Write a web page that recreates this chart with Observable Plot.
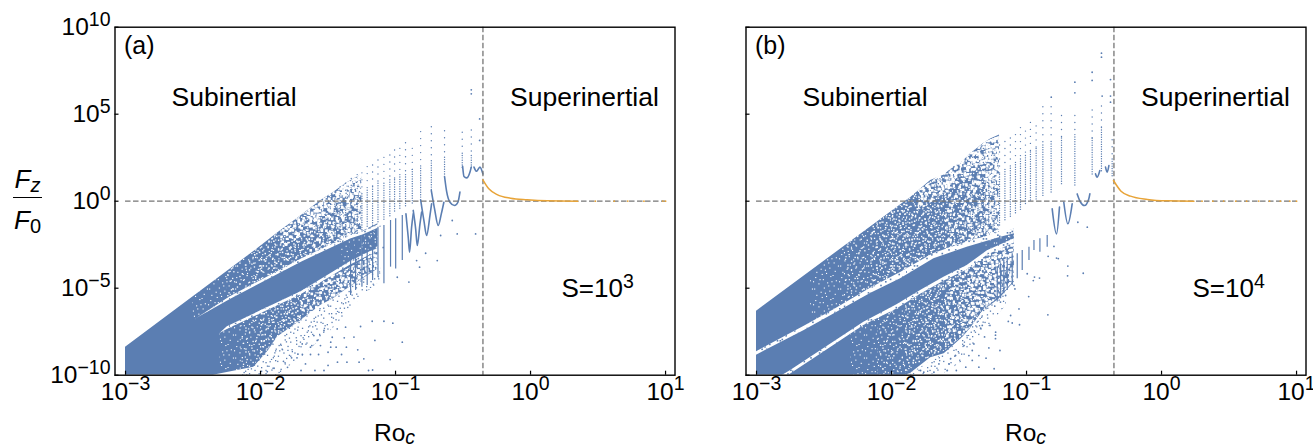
<!DOCTYPE html>
<html><head><meta charset="utf-8">
<script src="https://cdn.jsdelivr.net/npm/d3@7"></script>
<script src="https://cdn.jsdelivr.net/npm/@observablehq/plot@0.6"></script>
<style>
html,body{margin:0;padding:0;background:#fff;overflow:hidden}
#page{position:relative;width:1313px;height:447px;font-family:"Liberation Sans",sans-serif;color:#000}
.frac{position:absolute;left:12px;width:31px;text-align:center;font-size:26px;line-height:1;font-style:italic;white-space:nowrap}
.frac sub{font-size:20px;line-height:0;vertical-align:-4px}
.frac sub.up{font-style:normal}
</style></head><body>
<div id="page">
<svg width="0" height="0" style="position:absolute" id="defs"></svg>
<div class="frac" style="top:166px">F<sub>z</sub></div>
<div style="position:absolute;left:13px;top:197px;width:29px;height:1.4px;background:#000"></div>
<div class="frac" style="top:207px">F<sub class="up">0</sub></div>
</div>
<script>
// Values are log10(Ro_c) and log10(F_z/F_0).
const BLUE = "#5b7eb2", ORANGE = "#e8a438", DASH = "#757575";
const xExponents = [-3,-2,-1,0,1];
const yExponents = [-10,-5,0,5,10];
const roBoundary = 0.444;

// Outline of the merged point cloud: [log Ro, low log F, high log F]
const aCloud = [[-3,-10,-8.4],[-2.35,-10,-4.63],[-2.05,-9.54,-2.89],[-1.942,-8.6,-2.24],[-1.874,-7.8,-1.83],[-1.7,-6.85,-0.83],[-1.555,-6,0.02],[-1.46,-5.6,0.5],[-1.37,-5.1,1],[-1.25,-4.5,1.53]];
const aTail = [[-1.25,-4.5,-1.75],[-1.13,-3.9,-1.3]];
const bCloud = [[-3,-10,-6.32],[-1.897,-10,0],[-1.86,-9.9,0.2],[-1.71,-9,1.19],[-1.61,-8.77,1.5],[-1.54,-8.3,1.96],[-1.47,-7.8,2.3],[-1.414,-7.3,2.72],[-1.32,-6.28,3.3],[-1.266,-6,3.58],[-1.2,-5.6,3.8]];
const bTail = [[-1.2,-5.6,-1.9],[-1.09,-4.65,-1.6]];
// The two pale stripes that split the cloud
const aStripes = [
 [[-2.47,-6.72,-6.72],[-2.224,-5.65,-5.49],[-1.69,-3.48,-3.3],[-1.333,-2.17,-1.97],[-1.237,-1.93,-1.75],[-1.1,-1.45,-1.25]],
 [[-2.3,-7.6,-7.6],[-2.246,-7.38,-7.22],[-1.7,-5.38,-5.2],[-1.333,-3.66,-3.46],[-1.185,-3.09,-2.89],[-1.05,-2.7,-2.5]]
];
const bStripes = [
 [[-3,-8.85,-8.65],[-2.65,-7.45,-7.2],[-2.43,-6.5,-6.25],[-2.156,-5.3,-5],[-1.933,-4.46,-4.1],[-1.686,-3.31,-3],[-1.44,-2.64,-2.35],[-1.19,-2.07,-1.8],[-1.09,-1.87,-1.6]],
 [[-2.85,-10.2,-10.2],[-2.75,-9.95,-9.75],[-2.576,-9.05,-8.85],[-2.205,-7.15,-6.95],[-1.96,-6.2,-5.95],[-1.785,-5.35,-5.13],[-1.612,-4.6,-4.37],[-1.44,-3.95,-3.7],[-1.29,-3.1,-2.85],[-1.09,-2.4,-2.16]]
];
// Zones where the cloud thins out, and where each extra thinning step begins
const aUpperZone = [[-2.5,-6.9,-5.5],[-2.25,-5.7,-4.05],[-2.05,-4.9,-2.89],[-1.85,-4.1,-1.7],[-1.65,-3.3,-0.55],[-1.5,-2.75,0.3],[-1.4,-2.4,0.85],[-1.3,-2.05,1.3],[-1.2,-1.75,1.85]];
const aLowerZone = [[-2.3,-10,-7.6],[-2.15,-10,-6.85],[-2,-9.1,-6.3],[-1.85,-7.7,-5.75],[-1.7,-6.85,-5.2],[-1.5,-5.8,-4.4],[-1.35,-5,-3.9],[-1.2,-4.2,-3.2],[-1,-3.3,-2.4]];
const aCenterZone = [[-1.4,-3.85,-2.4],[-1.25,-3.3,-2.1],[-1.1,-2.8,-1.45],[-1,-2.4,-1]];
const aEdgeZone = [[-1.85,-2.9,-1.7],[-1.65,-1.75,-0.55],[-1.5,-0.9,0.3],[-1.4,-0.35,0.85],[-1.25,0.33,1.53]];
const aUpperSteps = [-2.5,-2.25,-2.05,-1.85,-1.65,-1.5,-1.4,-1.3,-1.3];
const aLowerSteps = [-2.3,-2.15,-2,-1.85,-1.7,-1.5,-1.35,-1.2];
const aCenterSteps = [-1.4,-1.25,-1.1];
const bUpperZone = [[-2.9,-8.4,-5.75],[-2.6,-7,-4],[-2.35,-5.9,-2.55],[-2.15,-5,-1.4],[-2,-4.4,-0.6],[-1.8,-3.6,0.6],[-1.6,-3,1.7],[-1.45,-2.6,2.5],[-1.3,-2.2,3.4],[-1.15,-1.9,3.9]];
const bLowerZone = [[-2.75,-10,-10],[-2.5,-10,-8.8],[-2.3,-10,-7.6],[-2.1,-10,-6.6],[-1.9,-9.9,-5.9],[-1.75,-9.1,-5.2],[-1.6,-8.6,-4.6],[-1.45,-7.6,-4],[-1.3,-6.2,-3.1],[-1.15,-5.1,-2.6],[-1,-3.8,-2.2]];
const bCenterZone = [[-1.3,-2.9,-2.3],[-1.15,-2.6,-1.9],[-1,-2.2,-1.6]];
const bEdgeZone = [[-1.8,-0.6,0.6],[-1.6,0.5,1.7],[-1.45,1.3,2.5],[-1.3,2.2,3.4],[-1.15,2.7,3.9]];
const bUpperSteps = [-2.6,-2.35,-2.15,-2,-1.6,-1.45,-1.3,-1.3,-1.3];
const bLowerSteps = [-2.3,-2.1,-1.9,-1.75,-1.6,-1.45,-1.3,-1.15];
const bCenterSteps = [-1.3,-1.15];
// Thin scatter just outside the lower edge
const aScatterZone = [[-2.2,-10,-9.9],[-2.05,-10,-9.5],[-1.874,-10,-7.8],[-1.7,-9,-6.85],[-1.46,-7.3,-5.6],[-1.237,-5.4,-4.4],[-1.11,-4.6,-3.7]];
const bScatterZone = [[-2,-10,-9.95],[-1.86,-10,-9.9],[-1.61,-9.9,-8.77],[-1.47,-9.2,-7.8],[-1.32,-7.6,-6.28],[-1.15,-6,-5.1]];

// Dotted columns: [log Ro, top, where the dots close up, bottom]
const aColumns = [[-0.439,4.06,2.6,1.8],[-0.506,3.93,2.6,1.9],[-0.637,4.02,2.5,1.4],[-0.735,4.25,2.3,0.6],[-0.814,3.97,2,0.1],[-0.876,3.01,1.8,-0.2],[-0.926,3.33,1.5,-0.4],[-0.968,3.01,1.5,-0.5],[-1.007,2.91,1.2,-0.7],[-1.042,2.63,1.2,-0.9],[-1.086,2.49,1,-1.1],[-1.13,2.34,1,-1.3],[-1.17,2.05,0.8,-1.5],[-1.21,1.96,0.6,-1.6],[-1.249,1.6,0.4,-1.7],[-1.284,1.5,0.2,-1.9],[-1.328,1.28,0,-2],[-1.37,1,0,-2.2],[-1.41,0.8,0,-2.4],[-1.45,0.5,-0.2,-2.6]];
const bColumns = [[-0.366,3.5,2.4,1.4],[-0.445,5.44,4.2,1.6],[-0.514,5.21,3.6,1.4],[-0.642,4.9,3.8,0.8],[-0.741,4.9,3.6,0.9],[-0.818,5.4,3.4,0.4],[-0.879,5.4,3.2,0.2],[-0.929,4.3,3,0.1],[-0.971,4.5,2.8,0],[-1.008,4,2.6,-0.2],[-1.045,4.2,2.4,-0.5],[-1.082,3.8,2.2,-0.8],[-1.12,3.6,2,-1],[-1.16,3.4,1.8,-1.2],[-1.2,3.2,1.5,-1.4],[-1.24,3,1.2,-1.5],[-1.28,2.8,1,-1.7],[-1.32,3,1,-1.8],[-1.36,2.8,0.8,-1.9],[-1.4,2.5,0.6,-2]];
const aTeeth = [[-0.95,-0.82,-3.41],[-0.999,-1.01,-3.89],[-1.037,-1.11,-3.79],[-1.086,-1.4,-4.75],[-1.13,-1.49,-4.37],[-1.17,-1.68,-4.56],[-1.21,-1.88,-4.85],[-1.249,-1.97,-4.94],[-1.296,-2.16,-5.13],[-1.333,-2.26,-5.42]];
const bTeeth = [[-1.217,-3.79,-5.8],[-1.192,-3.6,-5.6],[-1.168,-3.41,-5.32],[-1.143,-3.22,-5.13],[-1.106,-3.02,-4.84],[-1.069,-3.02,-4.46],[-1.032,-2.83,-3.98],[-0.982,-2.64,-3.41],[-0.945,-2.26,-2.83],[-0.901,-2.16,-2.93],[-0.847,-1.97,-2.64]];

// Swinging curve pieces at high Ro: [log Ro, log F]
const aCurves = [
 [[-0.503,2],[-0.493,1.42],[-0.474,1.34],[-0.449,1.67],[-0.439,1.96]],
 [[-0.419,1.96],[-0.4,1.72],[-0.375,1.96],[-0.353,1.57]],
 [[-0.637,1.42],[-0.622,0.58],[-0.597,-0.06],[-0.563,-0.25],[-0.538,-0.06],[-0.523,0.52]],
 [[-0.735,0.61],[-0.711,-0.44],[-0.684,-1.4],[-0.661,-0.73],[-0.642,-0.06]],
 [[-0.814,0.08],[-0.79,-1.1],[-0.77,-1.97],[-0.745,-0.82],[-0.733,-0.15]],
 [[-0.869,-0.53],[-0.851,-1.59],[-0.839,-2.55],[-0.819,-1.3],[-0.807,-0.63]],
 [[-0.923,-0.73],[-0.906,-2.07],[-0.896,-2.93],[-0.881,-1.49],[-0.869,-0.73]]
];
const bCurves = [
 [[-0.625,0.42],[-0.6,-0.06],[-0.571,-0.25],[-0.539,0.13],[-0.531,0.42]],
 [[-0.724,-0.06],[-0.694,-1.3],[-0.662,-0.15]],
 [[-0.81,-0.44],[-0.778,-1.88],[-0.756,-0.34]],
 [[-0.489,1.57],[-0.477,1.38],[-0.457,1.76]],
 [[-0.415,1.96],[-0.403,1.67],[-0.39,2.05]]
];
// Line of the superinertial branch
const aOrange = [[-0.353,1.23],[-0.309,0.71],[-0.247,0.38],[-0.148,0.17],[-0.025,0.08],[0.124,0.02],[0.35,0]];
const bOrange = [[-0.356,1.19],[-0.3,0.575],[-0.23,0.29],[-0.105,0.1],[0.04,0.02],[0.24,0]];
const aOrangeDots = [[0.48,0],[0.62,0],[0.72,0.01],[0.84,0],[0.98,0.01],[1,0]];
const bOrangeDots = [[0.3,0],[0.38,0],[0.46,0.01],[0.55,0],[0.63,0],[0.72,0.01],[0.8,0],[0.88,0],[0.95,0],[1,0]];

// Individually visible points
const aPoints = [[-0.439,6.4],[-0.439,6.17],[-0.377,4.73],[-0.377,3.49],[-0.58,-1.11],[-0.543,-1.88],[-0.407,-1.88],[-0.666,-1.97],[-0.777,-2.99],[-0.691,-3.41],[-0.844,-3.41],[-0.822,-3.79],[-0.901,-4.65],[-0.987,-4.37],
 [-1.173,-6.9],[-1.086,-6.9],[-1.02,-7.01],[-0.95,-8.1],[-1.153,-8],[-1.259,-7.2],[-1.37,-7.24],[-1.432,-7.34],[-1.53,-7.43],[-1.605,-7.72],[-1.308,-7.81],[-1.469,-7.82],[-1.38,-7.85],[-1.58,-8],[-1.48,-8.1],[-1.62,-8.3],[-1.364,-8.39],[-1.44,-8.39],[-1.48,-8.39],[-1.556,-8.3],[-1.63,-8.39],[-1.691,-8.2],[-1.28,-8.54],[-1.4,-8.81],[-1.57,-8.81],[-1.5,-8.68],[-1.63,-8.81],[-1.69,-8.81],[-1.235,-9.06],[-1.04,-9.1],[-1.27,-9.25],[-1.36,-9.25],[-1.43,-9.25],[-1.5,-9.44],[-1.73,-9],[-1.77,-9],[-1.667,-9.35],[-1.597,-9.73],[-1.53,-9.73],[-1.7,-9.73],[-1.8,-9.55],[-1.83,-9.2],[-1.9,-9.6],[-1.2,-9.73],[-1.17,-9.7],[-1.95,-9.8]];
const bPoints = [[-0.445,8.51],[-0.445,8.28],[-0.514,7.41],[-0.514,6.94],[-0.642,6.84],[-0.642,6.23],[-0.817,5.98],[-0.378,6.99],[-0.378,6.04],[-0.378,5.69],[-0.44,6.04],
 [-0.62,-1.21],[-0.55,-1.49],[-0.778,-3.27],[-0.694,-3.73],[-0.58,-4.14],[-0.797,-2.6],[-0.765,-3.3],[-0.84,-3.17],[-0.696,-4.29],[-0.842,-6.53],[-0.984,-5.48],[-0.941,-4.36],[-0.904,-4.42],[-0.95,-4.56],[-0.995,-4.17],[-1.086,-5.04],[-1.093,-4.84],[-1.155,-5.42],[-1.193,-5.8],[-1.056,-6.19],[-1.118,-6.57],[-1.135,-6.91],[-1.106,-7],[-1.052,-7.1],[-1.271,-7.14],[-1.328,-7.14],[-1.34,-7.3],[-1.311,-7.8],[-1.23,-7.7],[-1.229,-7.53],[-1.23,-7.9],[-1.39,-8.2],[-1.463,-8.3],[-1.402,-8.58],[-1.279,-8.43],[-1.197,-8.58],[-1.353,-8.87],[-1.427,-8.87],[-1.526,-8.87],[-1.563,-9.06],[-1.3,-9.02],[-1.24,-9.63],[-1.402,-9.15],[-1.45,-9.54],[-1.575,-9.35],[-1.649,-9.35],[-1.353,-9.54],[-1.52,-9.73],[-1.587,-9.73],[-1.686,-9.83],[-1.761,-9.83],[-1.785,-9.73]];

const panels = [
 {left:0,tag:"(a)",sLabel:"S=10^3",showY:true,cloud:aCloud,tail:aTail,stripes:aStripes,upper:aUpperZone,lower:aLowerZone,center:aCenterZone,edge:aEdgeZone,upperSteps:aUpperSteps,lowerSteps:aLowerSteps,centerSteps:aCenterSteps,scatter:aScatterZone,columns:aColumns,teeth:aTeeth,curves:aCurves,orange:aOrange,orangeDots:aOrangeDots,points:aPoints},
 {left:630.5,tag:"(b)",sLabel:"S=10^4",showY:false,cloud:bCloud,tail:bTail,stripes:bStripes,upper:bUpperZone,lower:bLowerZone,center:bCenterZone,edge:bEdgeZone,upperSteps:bUpperSteps,lowerSteps:bLowerSteps,centerSteps:bCenterSteps,scatter:bScatterZone,columns:bColumns,teeth:bTeeth,curves:bCurves,orange:bOrange,orangeDots:bOrangeDots,points:bPoints}
];

// Speckle texture: several transparent tiles of different period, so that they do not line up
const specks = "2,1 9,3 16,0 21,4 5,7 13,6 19,9 1,12 10,11 23,12 7,15 15,14 20,17 3,18 12,19 18,21 8,20 0,5 17,5 11,16 6,3 14,9 22,8 4,14 20,1 1,20 16,12 9,7 23,17 12,2 6,11 18,15 3,9 14,18 21,20 8,0 0,16 11,13 19,5 5,21 15,3 22,15 2,5 10,18 17,9 7,18 13,12 20,12 4,1 12,8 23,1 16,20 1,9 8,13 19,18 6,7 14,15 22,4 3,16 10,6 18,2 5,18 13,21 21,10 0,2 9,16 15,7 17,17 11,0 7,9".split(" ").map(s => s.split(",").map(Number));
const tileSizes = [[26,23],[29,21],[23,27],[31,25],[27,29],[33,24],[25,31],[35,27],[30,33]];
const speckSizes = [1.1,1.3,1.5,1.5,2.6,2.6,2.6,2.6,2.6];
function tile(id, color, k, size){
  const [w,h] = tileSizes[k];
  const from = (k*17) % 50, n = 22;
  const rects = d3.range(n).map(i => specks[(from+i)%specks.length]).map(([x,y]) => `<rect x="${(x*w/24).toFixed(1)}" y="${(y*h/22).toFixed(1)}" width="${size}" height="${size}" fill="${color}"/>`).join("");
  return `<pattern id="${id}" width="${w}" height="${h}" patternUnits="userSpaceOnUse">${rects}</pattern>`;
}
document.getElementById("defs").innerHTML = "<defs>"
 + d3.range(9).map(k => tile("w"+k,"#fff",k,speckSizes[k])).join("")
 + tile("flecks",BLUE,2,1.6) + tile("scatter1",BLUE,5,1.3) + tile("scatter2",BLUE,7,1.3)
 + "</defs>";

const p10 = v => 10 ** v;
const area = (rows, fill) => Plot.areaY(rows, {x:d=>p10(d[0]), y1:d=>p10(d[1]), y2:d=>p10(d[2]), fill, clip:true});
const exp = e => "10^" + String(e).replace("-", "\u2212");

function richText(svg){
  svg.querySelectorAll("text").forEach(t => {
    const m = t.textContent.match(/^(.*?)([\^_])(.*)$/);
    if(!m) return;
    const NS = "http://www.w3.org/2000/svg";
    t.textContent = "";
    const a = document.createElementNS(NS,"tspan"); a.textContent = m[1]; t.appendChild(a);
    const b = document.createElementNS(NS,"tspan"); b.textContent = m[3];
    b.setAttribute("font-size", 19.5);
    if(m[2]==="^") b.setAttribute("dy", -9.5);
    else { b.setAttribute("dy", 3); b.setAttribute("font-style","italic"); }
    t.appendChild(b);
  });
}

const page = document.getElementById("page");
for(const P of panels){
  const marks = [];
  marks.push(area(P.cloud,BLUE));
  marks.push(area(P.tail,BLUE));
  const thin = (rows, steps) => steps.forEach((s,k) => {
    marks.push(area(rows.filter(r => r[0] >= s), `url(#w${Math.min(8,k)})`));
  });
  thin(P.upper,P.upperSteps);
  thin(P.lower,P.lowerSteps);
  thin(P.center,P.centerSteps);
  marks.push(area(P.edge,"url(#w5)"));
  marks.push(area(P.edge,"url(#w7)"));
  marks.push(area(P.edge,"url(#w8)"));
  P.stripes.forEach(r => { marks.push(area(r,"#fff")); marks.push(area(r,"url(#flecks)")); });
  marks.push(area(P.scatter,"url(#scatter1)"));
  marks.push(area(P.scatter,"url(#scatter2)"));
  const col = (a,b,dash) => Plot.ruleX(P.columns,{x:d=>p10(d[0]),y1:d=>p10(d[a]),y2:d=>p10(d[b]),stroke:BLUE,strokeWidth:1.4,strokeLinecap:"round",strokeDasharray:dash});
  marks.push(col(1,2,"0 7"));
  marks.push(col(2,3,"0 2.4"));
  marks.push(Plot.ruleX(P.teeth,{x:d=>p10(d[0]),y1:d=>p10(d[1]),y2:d=>p10(d[2]),stroke:BLUE,strokeWidth:1.2}));
  P.curves.forEach(c => marks.push(Plot.line(c,{x:d=>p10(d[0]),y:d=>p10(d[1]),stroke:BLUE,strokeWidth:1.6,curve:"monotone-x"})));
  marks.push(Plot.dot(P.points,{x:d=>p10(d[0]),y:d=>p10(d[1]),r:0.9,fill:BLUE,clip:true}));
  marks.push(Plot.ruleY([1],{x1:p10(xExponents[0]),x2:p10(xExponents[4]),stroke:DASH,strokeWidth:1.3,strokeDasharray:"5.5 2.5"}));
  marks.push(Plot.ruleX([roBoundary],{stroke:DASH,strokeWidth:1.3,strokeDasharray:"5.5 2.5"}));
  marks.push(Plot.line(P.orange,{x:d=>p10(d[0]),y:d=>p10(d[1]),stroke:ORANGE,strokeWidth:1.5,curve:"monotone-x"}));
  marks.push(Plot.dot(P.orangeDots,{x:d=>p10(d[0]),y:d=>p10(d[1]),r:0.9,fill:ORANGE}));
  marks.push(Plot.frame({stroke:"#000",strokeWidth:1.4}));
  const xT = xExponents.map(p10), yT = yExponents.map(p10);
  marks.push(Plot.axisX(xT,{anchor:"bottom",tickSize:-4,fill:"none",stroke:"#000",strokeWidth:1.2,label:null}));
  marks.push(Plot.axisY(yT,{anchor:"left",tickSize:-4,fill:"none",stroke:"#000",strokeWidth:1.2,label:null}));
  marks.push(Plot.axisX(xT,{anchor:"bottom",tickSize:0,tickPadding:7,stroke:"none",fontSize:24.5,tickFormat:d=>exp(Math.round(Math.log10(d))),label:null}));
  if(P.showY) marks.push(Plot.axisY(yT,{anchor:"left",tickSize:0,tickPadding:4.5,stroke:"none",fontSize:24.5,tickFormat:d=>exp(Math.round(Math.log10(d))),label:null}));
  const note = (txt,dx,dy,size=26.5) => Plot.text([txt],{text:d=>d,frameAnchor:"top-left",textAnchor:"start",lineAnchor:"bottom",dx,dy,fontSize:size,fill:"#000"});
  marks.push(note(P.tag,9,26.5,25));
  marks.push(note("Subinertial",56.5,78.5));
  marks.push(note("Superinertial",395,78.5));
  marks.push(note("Ro_c",259,414,24.5));
  marks.push(note(P.sLabel,446.5,270,26));
  const svg = Plot.plot({
    width:686, height:447, marginLeft:114.5, marginRight:11.5, marginTop:26.7, marginBottom:72.3,
    x:{type:"log",domain:[10**-3.078,10**1.07],axis:null},
    y:{type:"log",domain:[1e-10,1e10],axis:null},
    style:{fontFamily:"Liberation Sans",background:"transparent",overflow:"visible"},
    marks
  });
  svg.style.position = "absolute";
  svg.style.left = P.left + "px";
  svg.style.top = "0";
  svg.style.maxWidth = "none";
  richText(svg);
  page.appendChild(svg);
}
</script>
</body></html>
